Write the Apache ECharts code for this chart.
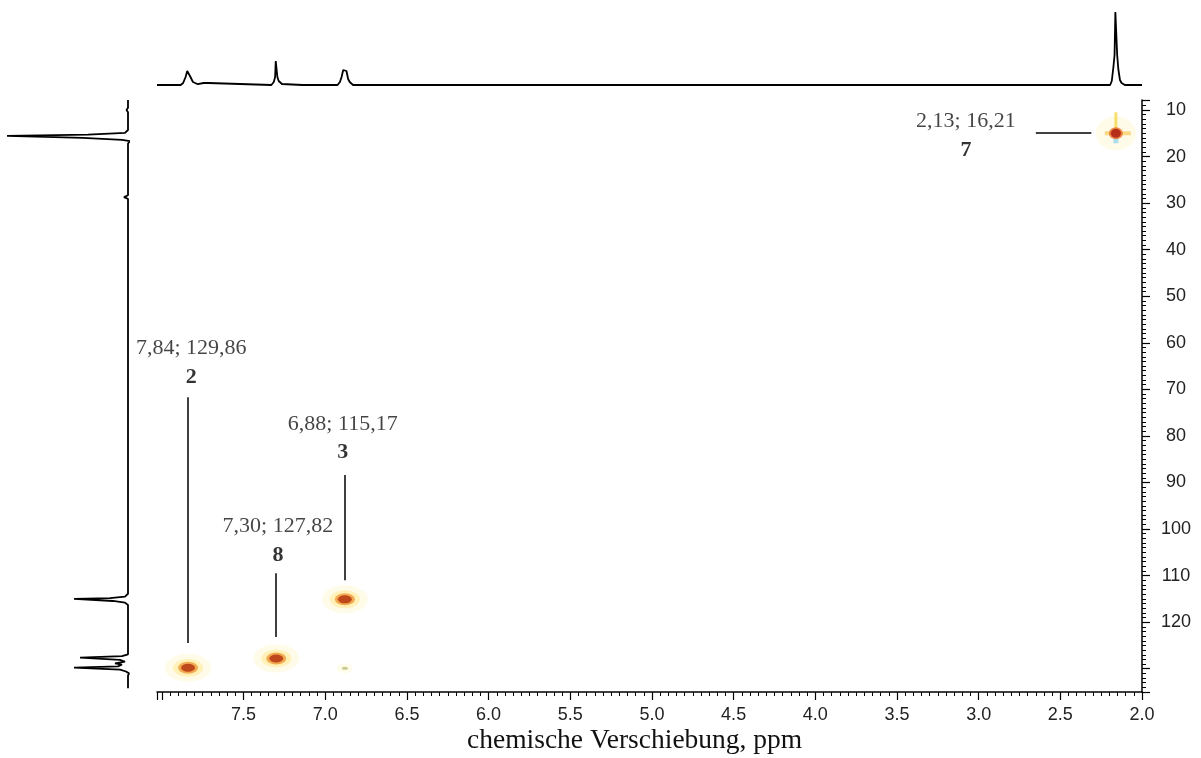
<!DOCTYPE html>
<html>
<head>
<meta charset="utf-8">
<script src="https://cdn.jsdelivr.net/npm/echarts@6/dist/echarts.min.js"></script>
<style>
html, body { margin: 0; padding: 0; background: #fff; }
#hsqc { width: 1201px; height: 758px; }
</style>
</head>
<body>
<div id="hsqc"></div>
<script>
// HSQC: 1H-Projektion oben, 13C-Projektion links, Kreuzsignale im Feld

// 1H-Spur oben: [ppm, Intensitaet]
var protonTrace = [
  [8.03, 0], [7.885, 0], [7.87, 2], [7.855, 8], [7.845, 14], [7.835, 14], [7.825, 8], [7.81, 3],
  [7.80, 1.5], [7.78, 0.8], [7.745, 2], [7.735, 0.5], [7.715, 2], [7.705, 0],
  [7.33, 0], [7.315, 3], [7.307, 8], [7.303, 24], [7.297, 24], [7.293, 8], [7.285, 4], [7.275, 2],
  [7.265, 1], [7.255, 0],
  [7.14, 0], [7.135, 2], [7.13, 0], [7.05, 0], [7.045, 2], [7.04, 0],
  [6.925, 0], [6.91, 3], [6.90, 8], [6.89, 15], [6.88, 16], [6.87, 14], [6.86, 6], [6.85, 3],
  [6.84, 1], [6.83, 0], [6.805, 0], [6.80, 2], [6.795, 0], [6.775, 0], [6.77, 2], [6.765, 0],
  [5.675, 0], [5.67, 2], [5.665, 0], [5.505, 0], [5.50, 2], [5.495, 0], [5.475, 0], [5.47, 2], [5.465, 0],
  [4.585, 0], [4.58, 2], [4.575, 0], [4.025, 0], [4.02, 2], [4.015, 0], [3.985, 0], [3.98, 2], [3.975, 0],
  [2.26, 0], [2.255, 2], [2.25, 0], [2.195, 0], [2.185, 4], [2.175, 18], [2.168, 30], [2.163, 73],
  [2.157, 73], [2.152, 30], [2.145, 16], [2.135, 5], [2.125, 2], [2.115, 3], [2.105, 0], [2.0, 0]
];

// 13C-Spur links: [ppm, Intensitaet]
var carbonTrace = [
  [7.85, 0], [9.5, 0], [10, 1.5], [10.5, 0], [12.3, 0], [12.7, 2], [13.1, 0],
  [14.3, 0], [14.9, 3], [15.3, 40], [15.55, 121], [15.75, 121], [16.0, 45], [16.4, 6], [16.7, -2], [17.2, 0],
  [22, 0], [22.4, 1], [22.8, 0], [28.3, 0], [28.7, 4], [29.1, 0], [38.3, 0], [38.6, 1.5], [38.9, 0],
  [55, 0], [55.4, 1.5], [55.8, 0], [72, 0], [72.3, 1.5], [72.6, 0], [79.1, 0], [79.4, 2], [79.7, 0],
  [83.4, 0], [83.7, 1.5], [84, 0], [92.8, 0], [93.1, 2], [93.4, 0], [99.3, 0], [99.6, 2], [99.9, 0],
  [104.9, 0], [105.2, 2], [105.5, 0], [108.6, 0], [109, 2], [109.5, 0], [112, 0], [112.4, 1.5], [112.8, 0],
  [113.9, 0], [114.5, 3], [114.85, 18], [115.0, 54], [115.2, 54], [115.45, 15], [115.8, 3], [116.3, 0],
  [121.8, 0], [122.2, 2], [122.6, 0], [124.2, 0], [124.5, 1.5], [124.8, 0],
  [126.9, 0], [127.3, 6], [127.6, 48], [127.8, 48], [128.1, 8], [128.5, 3], [128.85, 13], [129.1, 6],
  [129.5, 10], [129.75, 54], [129.95, 54], [130.2, 8], [130.6, 2], [131, -1], [131.5, 0], [134.2, 0]
];

// Kreuzsignale [dH, dC]
var aromaticPeaks = [[7.84, 129.8], [7.30, 127.8], [6.88, 115.1]];
var methylPeak = [[2.16, 15.0]];
var weakPeaks = [[6.88, 129.9]];

// Beschriftungen
var peakShifts = ['7,84; 129,86', '7,30; 127,82', '6,88; 115,17', '2,13; 16,21'];
var peakNumbers = ['2', '8', '3', '7'];

// Achsenbeschriftungen
var hTickLabels = [7.5, 7.0, 6.5, 6.0, 5.5, 5.0, 4.5, 4.0, 3.5, 3.0, 2.5, 2.0];
var cTickLabels = [10, 20, 30, 40, 50, 60, 70, 80, 90, 100, 110, 120];

// Lage der Beschriftungen und Hinweislinien (ppm)
var calloutAnchors = [[7.82, 64.2], [7.29, 102.5], [6.893, 80.5], [3.078, 15.6]];
var leaderLines = [
  [[7.84, 71.7], [7.84, 124.5]],
  [[7.30, 109.5], [7.30, 123.2]],
  [[6.88, 88.4], [6.88, 111.0]],
  [[2.65, 14.9], [2.31, 14.9]]
];

var hMin = 2.0, hMax = 8.03;
var cMin = 7.85, cMax = 135;

var myChart = echarts.init(document.getElementById('hsqc'));

function inList(list, v, tol) {
  for (var i = 0; i < list.length; i++) {
    if (Math.abs(list[i] - v) < tol) return true;
  }
  return false;
}

var sansFont = 'Liberation Sans';
var serifFont = 'Liberation Serif';

function glow(name, data, size, color, extra) {
  var s = {
    name: name,
    type: 'scatter',
    xAxisIndex: 0,
    yAxisIndex: 0,
    data: data,
    symbol: 'circle',
    symbolSize: size,
    silent: true,
    itemStyle: { color: color },
    z: 3
  };
  if (extra) {
    for (var k in extra) s[k] = extra[k];
  }
  return s;
}

option = {
  animation: false,
  backgroundColor: '#fff',
  grid: [
    { left: 157, top: 100, width: 985, height: 592 },
    { left: 157, top: 0, width: 985, height: 85 },
    { left: 0, top: 100, width: 128, height: 592 }
  ],
  xAxis: [{
    gridIndex: 0,
    type: 'value',
    inverse: true,
    min: hMin,
    max: hMax,
    interval: 0.5,
    axisLine: { show: true, onZero: false, lineStyle: { color: '#000', width: 1.5 } },
    axisTick: { show: true, length: 8, lineStyle: { color: '#000', width: 1.2 } },
    minorTick: { show: true, splitNumber: 10, length: 4, lineStyle: { color: '#000', width: 1 } },
    axisLabel: {
      margin: 14,
      fontFamily: sansFont,
      fontSize: 18,
      color: '#222',
      formatter: function (v) {
        return inList(hTickLabels, v, 1e-6) ? v.toFixed(1) : '';
      }
    },
    splitLine: { show: false }
  }, {
    gridIndex: 1, type: 'value', inverse: true, min: hMin, max: hMax, show: false
  }, {
    gridIndex: 2, type: 'value', inverse: true, min: 0, max: 128, show: false
  }],
  yAxis: [{
    gridIndex: 0,
    type: 'value',
    position: 'right',
    inverse: true,
    min: cMin,
    max: cMax,
    splitNumber: 13,
    axisLine: { show: true, onZero: false, lineStyle: { color: '#000', width: 1.5 } },
    axisTick: { show: true, length: 8, lineStyle: { color: '#000', width: 1.2 } },
    minorTick: { show: true, splitNumber: 10, length: 4, lineStyle: { color: '#000', width: 1 } },
    axisLabel: {
      margin: 34,
      align: 'center',
      fontFamily: sansFont,
      fontSize: 18,
      color: '#222',
      showMinLabel: false,
      showMaxLabel: false,
      formatter: function (v) {
        return inList(cTickLabels, v, 1e-6) ? String(Math.round(v)) : '';
      }
    },
    splitLine: { show: false }
  }, {
    gridIndex: 1, type: 'value', min: 0, max: 85, show: false
  }, {
    gridIndex: 2, type: 'value', inverse: true, min: cMin, max: cMax, show: false
  }],
  series: [
    {
      name: '1H',
      type: 'line',
      xAxisIndex: 1,
      yAxisIndex: 1,
      data: protonTrace,
      showSymbol: false,
      clip: false,
      silent: true,
      lineStyle: { color: '#000', width: 1.8 }
    },
    {
      name: '13C',
      type: 'line',
      xAxisIndex: 2,
      yAxisIndex: 2,
      data: carbonTrace.map(function (p) { return [p[1], p[0]]; }),
      showSymbol: false,
      clip: false,
      silent: true,
      lineStyle: { color: '#000', width: 1.8 }
    },
    // Kreuzsignale, von aussen nach innen
    glow('halo', aromaticPeaks, [46, 28], 'rgba(255,248,215,0.7)'),
    glow('gelb', aromaticPeaks, [30, 18], 'rgba(255,236,160,0.85)'),
    glow('orange', aromaticPeaks, [20, 12], '#ef9a3a'),
    glow('rot', aromaticPeaks, [14, 8], '#b2300c'),
    glow('halo7', methylPeak, [40, 34], 'rgba(255,248,215,0.7)'),
    glow('streifen7', methylPeak, [3, 18], '#f5d84a', { symbol: 'rect', symbolOffset: [0, -12] }),
    glow('streifen7b', methylPeak, [5, 6], '#9ad6ea', { symbol: 'rect', symbolOffset: [0, 7] }),
    glow('streifen7c', methylPeak, [26, 4], '#f9cf6a', { symbol: 'rect', symbolOffset: [2, 0] }),
    glow('orange7', methylPeak, [14, 12], '#e8702a'),
    glow('rot7', methylPeak, [10, 9], '#a8180c'),
    glow('schwach', weakPeaks, [16, 10], 'rgba(255,250,225,0.8)'),
    glow('schwach2', weakPeaks, [6, 3], '#b9c27a'),
    // Beschriftungen mit Hinweislinien
    {
      name: 'labels',
      type: 'scatter',
      xAxisIndex: 0,
      yAxisIndex: 0,
      symbolSize: 1,
      silent: true,
      itemStyle: { color: 'rgba(0,0,0,0)' },
      data: calloutAnchors.map(function (p, i) {
        return { value: p, shift: peakShifts[i], num: peakNumbers[i] };
      }),
      label: {
        show: true,
        position: 'inside',
        align: 'center',
        verticalAlign: 'middle',
        formatter: function (params) {
          return '{t|' + params.data.shift + '}\n{n|' + params.data.num + '}';
        },
        rich: {
          t: { fontFamily: serifFont, fontSize: 22, color: '#151515', lineHeight: 29, align: 'center' },
          n: { fontFamily: serifFont, fontSize: 22, fontWeight: 'bold', color: '#000', lineHeight: 29, align: 'center' }
        }
      },
      markLine: {
        silent: true,
        symbol: ['none', 'none'],
        animation: false,
        label: { show: false },
        lineStyle: { color: '#000', width: 1.5, type: 'solid' },
        data: leaderLines.map(function (l) {
          return [{ coord: l[0] }, { coord: l[1] }];
        })
      },
      z: 5
    }
  ],
  graphic: [{
    type: 'text',
    left: 467,
    top: 727,
    style: {
      text: 'chemische Verschiebung, ppm',
      fontFamily: serifFont,
      fontSize: 27.5,
      fill: '#111'
    }
  }]
};

myChart.setOption(option);
</script>
</body>
</html>
